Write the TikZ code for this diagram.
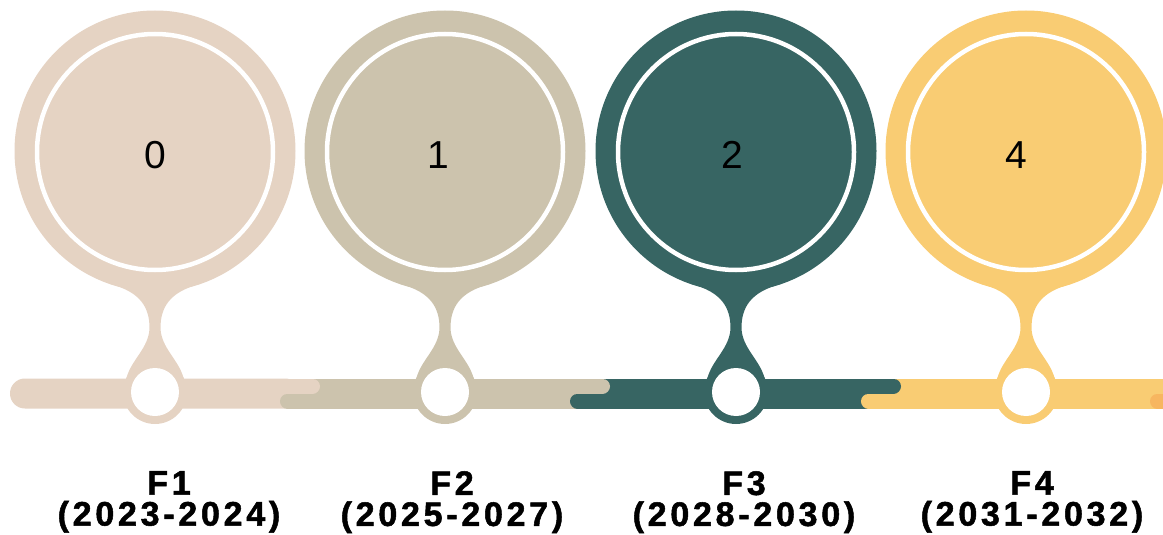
\documentclass[tikz,border=0pt]{standalone}
\usepackage{fontspec}
\setmainfont{Liberation Sans}
\newfontfamily\labfont[LetterSpace=11, FakeBold=1.5]{Liberation Sans Bold}
\definecolor{cbeige}{HTML}{E5D3C3}
\definecolor{ctan}{HTML}{CCC3AD}
\definecolor{cteal}{HTML}{376563}
\definecolor{cyellow}{HTML}{F9CC73}
\definecolor{corange}{HTML}{F7B660}
\tikzset{
  numtext/.style={inner sep=0pt, font=\fontsize{39}{39}\selectfont, text=black},
  labtext/.style={inner sep=0pt, anchor=north, align=center, font=\labfont\fontsize{34}{31}\selectfont, text=black},
  joinstrip/.style={line width=15pt, line cap=round},
}
\begin{document}
\begin{tikzpicture}[x=1pt,y=-1pt]
\useasboundingbox (0,0) rectangle (1163,535);
% timeline bars
\fill[cbeige, rounded corners=14.9pt] (10,378.5) rectangle (300,408.5);
\fill[ctan] (300,378.5) rectangle (590,408.5);
\fill[cteal] (590,378.5) rectangle (881,408.5);
\fill[cyellow] (881,378.5) rectangle (1190,408.5);
\foreach \j/\a/\b in {300/cbeige/ctan, 590/ctan/cteal, 881/cteal/cyellow, 1170/cyellow/corange}{
  \draw[joinstrip, \a] (\j-12,386) -- (\j+12.5,386);
  \draw[joinstrip, \b] (\j-12.5,401) -- (\j+12,401);
}
% pins
\foreach \c/\col/\num/\nx/\lx/\lab/\yr in {155/cbeige/0/155/169/F1/2023-2024, 445/ctan/1/438/452/F2/2025-2027, 736/cteal/2/732/744/F3/2028-2030, 1026/cyellow/4/1016/1032/F4/2031-2032}{
  \fill[\col] (\c-45,284) .. controls (\c-14,292) and (\c-5.5,308) .. (\c-5.5,328)
     .. controls (\c-6,348) and (\c-24,360) .. (\c-28.5,378)
     -- (\c+28.5,378) .. controls (\c+24,360) and (\c+6,348) .. (\c+5.5,328)
     .. controls (\c+5.5,308) and (\c+14,292) .. (\c+45,284) -- cycle;
  \fill[\col] (\c,151) circle[radius=140.5];
  \draw[white, line width=4.5pt] (\c,152) circle[radius=118];
  \fill[\col] (\c,392) circle[radius=32];
  \fill[white] (\c,392) circle[radius=24];
  \node[numtext] (num\num) at (\nx,155) {\num};
  \node[labtext] (lab\lab) at (\lx,471) {\lab\hspace{12pt}\\(\yr)};
}
\end{tikzpicture}
\end{document}
